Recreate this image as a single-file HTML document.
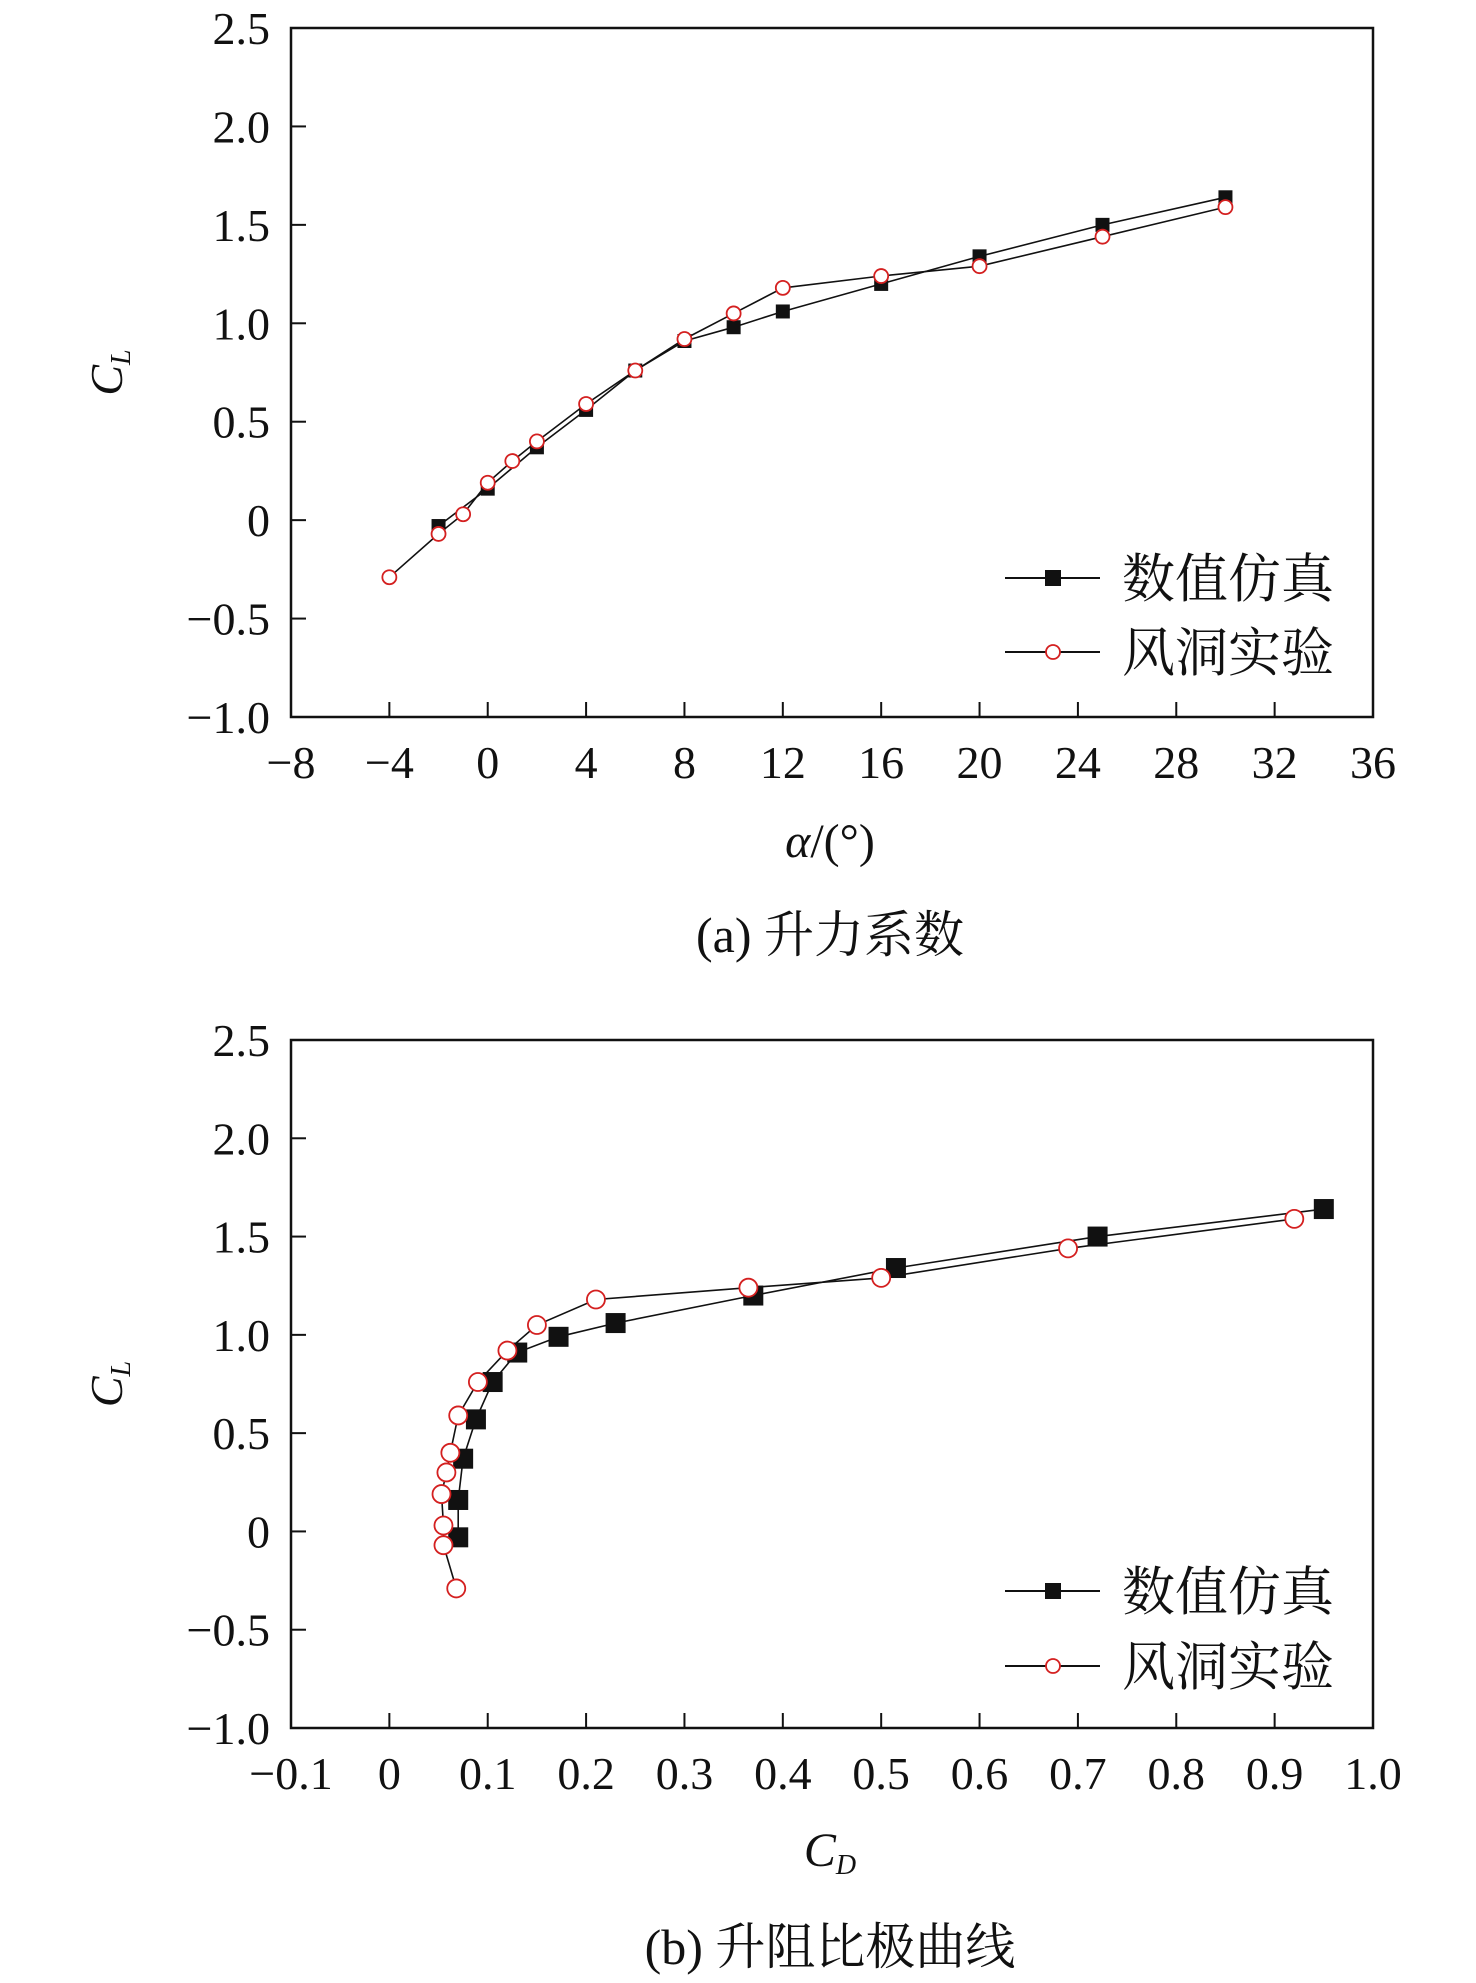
<!DOCTYPE html>
<html><head><meta charset="utf-8"><style>
html,body{margin:0;padding:0;background:#fff;}
svg{display:block;}
text{font-family:"Liberation Serif","Noto Serif CJK SC",serif;fill:#111;}
</style></head><body>
<svg id="s" width="1476" height="1983" viewBox="0 0 1476 1983"></svg>
<script>
// ---- chart (a) data ----
const aAlphaSim = [-2,0,2,4,6,8,10,12,16,20,25,30];
const aCLSim = [-0.03,0.16,0.37,0.56,0.76,0.91,0.98,1.06,1.2,1.34,1.5,1.64];
const aAlphaExp = [-4,-2,-1,0,1,2,4,6,8,10,12,16,20,25,30];
const aCLExp = [-0.29,-0.07,0.03,0.19,0.3,0.4,0.59,0.76,0.92,1.05,1.18,1.24,1.29,1.44,1.59];
const aXTicks = [-8,-4,0,4,8,12,16,20,24,28,32,36];
const aXTickLabels = ["\u22128","\u22124","0","4","8","12","16","20","24","28","32","36"];
// ---- chart (b) data ----
const bCDSim = [0.07,0.07,0.075,0.088,0.105,0.13,0.172,0.23,0.37,0.515,0.72,0.95];
const bCLSim = [-0.03,0.16,0.37,0.57,0.76,0.91,0.99,1.06,1.2,1.34,1.5,1.64];
const bCDExp = [0.068,0.055,0.055,0.053,0.058,0.062,0.07,0.09,0.12,0.15,0.21,0.365,0.5,0.69,0.92];
const bCLExp = [-0.29,-0.07,0.03,0.19,0.3,0.4,0.59,0.76,0.92,1.05,1.18,1.24,1.29,1.44,1.59];
const bXTicks = [-0.1,0,0.1,0.2,0.3,0.4,0.5,0.6,0.7,0.8,0.9,1.0];
const bXTickLabels = ["\u22120.1","0","0.1","0.2","0.3","0.4","0.5","0.6","0.7","0.8","0.9","1.0"];
const yTicks = [-1,-0.5,0,0.5,1,1.5,2,2.5];
const yTickLabels = ["\u22121.0","\u22120.5","0","0.5","1.0","1.5","2.0","2.5"];
const legendLabels = ["数值仿真","风洞实验"];

const NS="http://www.w3.org/2000/svg";
const svg=document.getElementById('s');
function mk(tag,attrs,parent){const e=document.createElementNS(NS,tag);for(const k in attrs)e.setAttribute(k,attrs[k]);(parent||svg).appendChild(e);return e;}

function drawChart(cfg){
  const g=mk('g',{});
  
  
  const L=291,R=1373,T=cfg.top,B=cfg.bottom;
  const xs=v=>L+(v-cfg.xmin)/(cfg.xmax-cfg.xmin)*(R-L);
  const ys=v=>B-(v-(-1))/(2.5-(-1))*(B-T);
  const frame=mk('rect',{x:L,y:T,width:R-L,height:B-T,fill:'none',stroke:'#111','stroke-width':2.5},g);
  
  
  yTicks.forEach((v,i)=>{
    const y=ys(v);
    const t=mk('line',{x1:L,x2:L+15,y1:y,y2:y,stroke:'#111','stroke-width':2},g);
    
    
    const lb=mk('text',{x:270,y:y+16,'text-anchor':'end','font-size':46},g);
    lb.textContent=yTickLabels[i];
    
    
  });
  cfg.xticks.forEach((v,i)=>{
    const x=xs(v);
    const t=mk('line',{x1:x,x2:x,y1:B,y2:B-15,stroke:'#111','stroke-width':2},g);
    
    
    const lb=mk('text',{x:x,y:B+61,'text-anchor':'middle','font-size':46},g);
    lb.textContent=cfg.xlabels[i];
    
    
  });
  function series(X,Y,kind,sz){
    const pts=X.map((v,i)=>xs(v).toFixed(1)+','+ys(Y[i]).toFixed(1)).join(' ');
    const pl=mk('polyline',{points:pts,fill:'none',stroke:'#111','stroke-width':1.6},g);
    
    
    X.forEach((v,i)=>{
      let m;
      if(kind==='sq'){m=mk('rect',{x:xs(v)-sz/2,y:ys(Y[i])-sz/2,width:sz,height:sz,fill:'#111'},g);}
      else{m=mk('circle',{cx:xs(v),cy:ys(Y[i]),r:sz,fill:'#fff',stroke:'#d42020','stroke-width':1.8},g);}
      
    });
  }
  series(cfg.sx,cfg.sy,'sq',cfg.sq);
  series(cfg.ex,cfg.ey,'ci',cfg.cr);
  const lg=mk('g',{},g);
  
  
  cfg.leg.forEach((ly,i)=>{
    const e=mk('g',{},lg);
    
    
    mk('line',{x1:1005,x2:1100,y1:ly,y2:ly,stroke:'#111','stroke-width':2},e);
    if(i===0) mk('rect',{x:1045,y:ly-8,width:16,height:16,fill:'#111'},e);
    else mk('circle',{cx:1053,cy:ly,r:7,fill:'#fff',stroke:'#d42020','stroke-width':1.8},e);
    const t=mk('text',{x:1122,y:ly+19,'font-size':53,'font-family':'"Noto Serif CJK SC","Noto Sans CJK SC",serif'},e);
    t.textContent=legendLabels[i];
  });
  const yt=mk('text',{x:0,y:0,'font-size':46,'font-style':'italic',transform:`translate(122,${(T+B)/2}) rotate(-90)`,'text-anchor':'middle'},g);
  yt.innerHTML='C<tspan font-size="28" dy="8">L</tspan>';
  
  
  const xt=mk('text',{x:830,y:cfg.xtY,'font-size':48,'text-anchor':'middle'},g);
  xt.innerHTML=cfg.xtitle;
  
  
  const cap=mk('text',{x:830,y:cfg.capY,'font-size':50,'text-anchor':'middle','font-family':'"Liberation Serif","Noto Serif CJK SC",serif'},g);
  cap.textContent=cfg.caption;
  
  
}
drawChart({name:'lift-coefficient-chart',top:28,bottom:717,xmin:-8,xmax:36,xticks:aXTicks,xlabels:aXTickLabels,
  sx:aAlphaSim,sy:aCLSim,ex:aAlphaExp,ey:aCLExp,sq:14,cr:7,leg:[578,652],
  xtitle:'<tspan font-style="italic">α</tspan>/(°)',xtY:857,caption:'(a) 升力系数',capY:952});
drawChart({name:'drag-polar-chart',top:1040,bottom:1728,xmin:-0.1,xmax:1.0,xticks:bXTicks,xlabels:bXTickLabels,
  sx:bCDSim,sy:bCLSim,ex:bCDExp,ey:bCLExp,sq:20,cr:9,leg:[1591,1666],
  xtitle:'<tspan font-style="italic">C</tspan><tspan font-style="italic" font-size="28" dy="8">D</tspan>',xtY:1866,caption:'(b) 升阻比极曲线',capY:1964});
</script>
</body></html>
